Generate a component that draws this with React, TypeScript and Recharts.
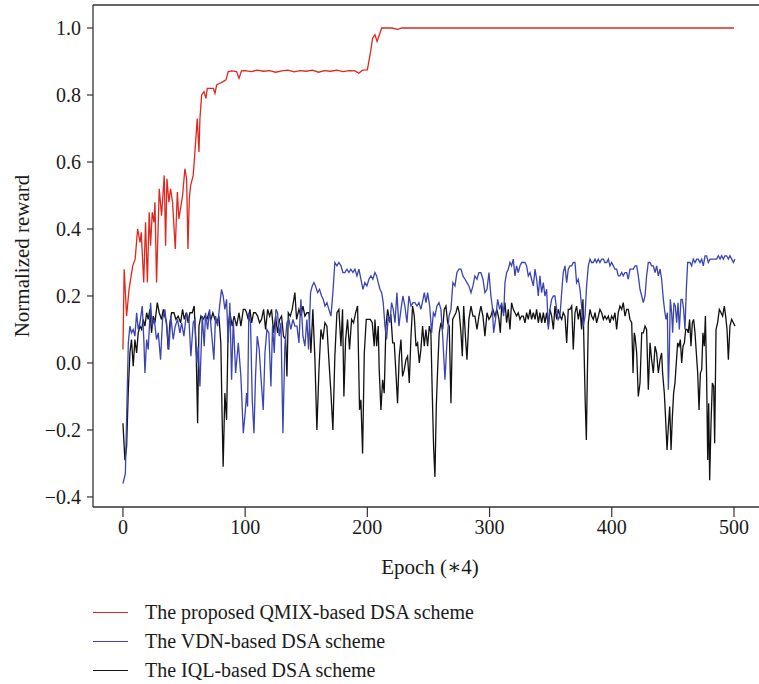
import React from 'react';
import { LineChart, Line, XAxis, YAxis, ReferenceLine, Label } from 'recharts';

const FONT = "'Liberation Serif', 'DejaVu Serif', serif";

const xTicks = [0, 100, 200, 300, 400, 500];
const yTicks = [-0.4, -0.2, 0, 0.2, 0.4, 0.6, 0.8, 1.0];
const X_DOMAIN: [number, number] = [-24.5, 535.2];
const Y_DOMAIN: [number, number] = [-0.43, 1.0687];

const seriesNames = [
  'The proposed QMIX-based DSA scheme',
  'The VDN-based DSA scheme',
  'The IQL-based DSA scheme',
];
const seriesColors = ['#e2261c', '#3a44b2', '#111111'];

// [epoch, normalized reward]
const qmixPoints: [number, number][] = [
  [0,0.04],[1,0.28],[3,0.14],[5,0.22],[8,0.29],[10,0.31],[12,0.40],[14,0.36],[15,0.39],[17,0.24],
  [18.5,0.42],[20,0.24],[21.5,0.45],[22.6,0.35],[24,0.45],[25.4,0.42],[26.2,0.48],[27.5,0.24],[29.7,0.52],[31.6,0.44],
  [33.8,0.56],[34.9,0.35],[36,0.55],[37.6,0.48],[39,0.52],[40.6,0.48],[42.8,0.34],[44.5,0.51],[45.8,0.43],[47.5,0.47],
  [48.8,0.50],[50.7,0.58],[52.1,0.55],[53.2,0.34],[54.3,0.49],[55.4,0.53],[57.5,0.56],[58.9,0.63],[60.8,0.73],[62.2,0.63],
  [63,0.73],[64.4,0.80],[66.3,0.81],[67.9,0.79],[69,0.82],[72,0.82],[74,0.82],[75.3,0.805],[76.7,0.83],[79.4,0.835],
  [82,0.84],[84.3,0.845],[86.2,0.87],[89,0.872],[93,0.870],[95,0.85],[97,0.872],[100,0.873],[105,0.870],[110,0.874],
  [115,0.871],[120,0.873],[125,0.868],[130,0.872],[135,0.874],[140,0.869],[145,0.873],[150,0.871],[155,0.874],[160,0.868],
  [165,0.873],[170,0.871],[175,0.874],[180,0.870],[185,0.873],[190,0.872],[193,0.865],[196,0.874],[200,0.875],[202.7,0.93],
  [204.3,0.97],[206.2,0.98],[208,0.96],[211.7,1.0],[220,1.0],[225,0.996],[228,1.0],[240,1.0],[260,1.0],[300,1.0],
  [350,1.0],[400,1.0],[450,1.0],[500,1.0],
];

const vdnPoints: [number, number][] = [
  [0,-0.36],[2,-0.33],[4.4,0.06],[5.7,0.11],[7,0.09],[8.4,0.10],[9.8,0.08],[11.2,0.15],[12.5,0.10],[13.9,0.12],
  [15.8,0.17],[17.2,0.06],[18,-0.03],[19.4,0.07],[20.7,0.04],[22.6,0.18],[24,0.11],[25.6,0.13],[27.5,0.07],[28.9,0.09],
  [30.8,0.01],[32.4,0.13],[34.3,0.16],[36,0.10],[37.6,0.04],[39.2,0.14],[41.1,0.07],[42.8,0.11],[44.7,0.13],[46.6,0.09],
  [48,0.12],[49.9,0.08],[52,0.15],[54,0.13],[55.6,0.02],[57.5,0.12],[58.9,0.13],[60.5,0.00],[61.6,0.05],[63,-0.07],
  [64.9,0.14],[66.5,0.05],[67.6,0.15],[69.3,0.10],[70.9,0.16],[72.5,0.09],[74.4,0.01],[75.8,0.14],[77.5,0.11],[79.4,0.18],
  [80.7,0.22],[82,0.20],[83.4,0.16],[84.8,0.19],[86.1,0.06],[87.5,0.18],[88.9,-0.05],[90.3,0.13],[92.2,-0.03],[94.4,0.06],
  [96.5,-0.04],[98.5,-0.21],[100,-0.15],[101.2,-0.09],[102,-0.13],[103,0.15],[104.4,0.12],[105.8,-0.11],[107.2,-0.21],[108.5,-0.04],
  [109.9,0.08],[111.5,0.04],[112.9,-0.04],[114.8,-0.14],[116.2,0.03],[117.8,0.10],[119.4,0.09],[121.1,-0.07],[122.4,0.11],[123.8,0.03],
  [125.2,0.16],[126.5,0.15],[127.9,0.08],[129.3,0.12],[130.9,-0.21],[132.5,0.05],[134.2,0.12],[135.8,0.13],[137.4,0.10],[139.1,0.13],
  [140.7,0.11],[142.4,0.11],[144,0.06],[145.6,0.19],[147.3,0.08],[148.9,0.05],[150.5,0.13],[151.9,0.04],[153.5,0.21],[154.9,0.23],
  [156.3,0.24],[157.6,0.23],[159.3,0.21],[160.9,0.22],[162.5,0.20],[163.9,0.19],[165.3,0.17],[166.9,0.18],[168.5,0.16],[170.2,0.14],
  [171.8,0.21],[173.4,0.30],[175.1,0.29],[176.7,0.30],[178.4,0.29],[180,0.27],[181.6,0.27],[183.3,0.28],[184.9,0.27],[186.5,0.28],
  [188.2,0.27],[189.8,0.28],[191.5,0.26],[193.1,0.28],[194.7,0.25],[196.4,0.22],[198,0.24],[199.6,0.23],[201.3,0.25],[202.9,0.26],
  [204.5,0.25],[206.2,0.27],[207.6,0.26],[208.9,0.24],[210.3,0.22],[211.7,0.21],[213,0.18],[214.4,0.11],[215.7,0.07],[217.1,0.14],
  [218.5,0.12],[219.8,0.18],[221.2,0.16],[222.6,0.12],[224.2,0.21],[225.8,0.11],[227.5,0.16],[229.1,0.20],[230.7,0.17],[232.4,0.12],
  [234,0.20],[235.7,0.17],[237.3,0.18],[238.9,0.18],[240.6,0.17],[242.2,0.18],[243.8,0.16],[245.5,0.19],[246.6,0.21],[248,0.18],
  [249.3,0.21],[251,0.17],[252.6,0.09],[254,0.15],[255.3,0.14],[256.9,0.17],[258.6,0.18],[260.2,0.16],[261.8,0.07],[263.5,-0.05],
  [265.1,0.06],[266.8,0.14],[268.4,0.16],[270,0.24],[271.7,0.23],[273.3,0.27],[274.9,0.28],[276.6,0.28],[278.2,0.26],[279.9,0.25],
  [281.5,0.24],[283.1,0.23],[284.8,0.21],[286.4,0.23],[288,0.26],[289.7,0.25],[291.3,0.27],[292.9,0.27],[294.6,0.25],[296.2,0.21],
  [297.9,0.22],[299.5,0.27],[301.1,0.20],[302.2,0.17],[303.3,0.09],[304.9,0.13],[306.6,0.19],[308.2,0.16],[309.9,0.18],[311.5,0.14],
  [312.6,0.24],[314,0.27],[315.3,0.28],[316.7,0.30],[318,0.29],[319.4,0.31],[320.8,0.26],[322.1,0.29],[323.5,0.27],[324.9,0.29],
  [326.2,0.30],[327.6,0.30],[329,0.30],[330.3,0.29],[331.7,0.26],[333.1,0.27],[334.4,0.25],[335.8,0.23],[337.2,0.28],[338.5,0.25],
  [339.9,0.20],[341.2,0.26],[342.6,0.21],[344,0.24],[345.3,0.20],[346.7,0.22],[348.1,0.10],[349.4,0.16],[350.8,0.19],[352.2,0.20],
  [353.5,0.20],[354.9,0.16],[356.2,0.13],[357.6,0.14],[359,0.21],[360.3,0.27],[361.7,0.29],[363.1,0.24],[364.4,0.28],[365.8,0.29],
  [367.2,0.29],[368.5,0.30],[369.9,0.30],[371.2,0.24],[372.6,0.25],[374,0.22],[375.3,0.17],[376.7,0.11],[378.1,0.14],[379.4,0.23],
  [380.8,0.29],[382.2,0.31],[383.5,0.30],[384.9,0.30],[386.3,0.31],[387.6,0.30],[389,0.31],[390.3,0.30],[391.7,0.31],[393.1,0.31],
  [394.4,0.30],[395.8,0.30],[397.2,0.31],[398.5,0.29],[399.9,0.30],[401.3,0.29],[402.6,0.28],[404,0.28],[405.3,0.26],[406.7,0.26],
  [408.1,0.27],[409.4,0.26],[410.8,0.27],[412.2,0.27],[413.5,0.25],[414.9,0.28],[416.3,0.28],[417.6,0.28],[419,0.29],[420.4,0.29],
  [421.7,0.26],[423.1,0.22],[424.5,0.20],[425.8,0.18],[427.2,0.20],[428.5,0.26],[429.9,0.30],[431.3,0.30],[432.6,0.29],[434,0.29],
  [435.4,0.27],[436.7,0.29],[438.1,0.26],[439.5,0.28],[440.8,0.25],[442.2,0.19],[443.5,0.15],[444.4,0.13],[445.5,0.15],[446.3,-0.08],
  [447.1,0.03],[447.9,0.19],[449,0.15],[449.8,0.09],[450.9,0.18],[452,0.17],[453.1,0.12],[454.2,0.18],[455.3,0.10],[456.6,0.19],
  [457.7,0.19],[458.8,0.16],[459.9,0.10],[461,0.22],[462.1,0.30],[464,0.30],[465.4,0.29],[466.7,0.31],[468.1,0.30],[469.5,0.31],
  [470.8,0.31],[472.2,0.30],[473.6,0.31],[474.9,0.29],[476.3,0.32],[477.6,0.32],[479,0.30],[480.4,0.31],[481.7,0.31],[483.1,0.31],
  [484.5,0.31],[485.8,0.31],[487.2,0.32],[488.6,0.31],[489.9,0.32],[491.3,0.31],[492.6,0.32],[494,0.32],[495.4,0.31],[496.7,0.32],
  [498.1,0.31],[499.5,0.30],[500.8,0.31],
];

const iqlPoints: [number, number][] = [
  [0,-0.18],[1.6,-0.29],[3,-0.25],[4.4,-0.08],[5.7,0.03],[7,0.07],[8.4,-0.01],[9.8,0.07],[11.2,0.03],[12.5,0.09],
  [13.9,0.11],[15.3,0.10],[16.6,0.13],[18,0.11],[19.4,0.15],[20.7,0.13],[22,0.16],[23.4,0.09],[24.8,0.14],[26.2,0.12],
  [28.1,0.18],[29.7,0.15],[31.6,0.13],[33,0.16],[34.3,0.14],[35.7,0.12],[37,0.04],[38.4,0.12],[39.8,0.15],[41.7,0.15],
  [43.4,0.13],[45.2,0.14],[47.2,0.12],[48.8,0.16],[50.2,0.13],[51.8,0.15],[53.4,0.12],[54.8,0.15],[56.7,0.15],[58.3,0.17],
  [60,0.02],[61.1,-0.18],[62.2,0.11],[63.8,0.14],[65.5,0.13],[67.1,0.14],[68.7,0.13],[70.4,0.15],[72,0.13],[73.6,0.15],
  [75.3,0.13],[76.9,0.12],[78.5,0.14],[80.1,0.06],[81.2,-0.17],[82,-0.31],[83.4,-0.09],[84.8,-0.17],[86.1,0.11],[87.5,0.15],
  [89.4,0.11],[91,0.14],[93,0.11],[95,0.15],[96.5,0.11],[98.5,0.16],[100,0.16],[101.2,0.15],[102.5,0.13],[103.9,0.16],
  [105.3,0.12],[106.9,0.15],[108.5,0.15],[110.2,0.14],[111.8,0.12],[113.4,0.13],[115.1,0.16],[116.7,0.10],[118.4,0.16],[120,0.14],
  [121.6,0.16],[123.3,0.09],[124.9,0.14],[126.5,0.09],[128.2,0.13],[129.8,0.14],[131.4,0.08],[133.1,0.07],[134.2,-0.04],[135.3,0.15],
  [136.9,0.14],[138.5,0.16],[140.7,0.21],[142.1,0.13],[144,0.16],[145.6,0.14],[147.3,0.17],[148.9,0.14],[150.5,0.15],[152.2,0.15],
  [153.8,0.03],[155.4,0.16],[157.1,0.01],[158.7,-0.20],[160.4,-0.02],[162,0.10],[163.6,0.07],[165.3,0.12],[166.9,0.11],[168.5,0.01],
  [170.2,-0.09],[171.8,-0.20],[173.4,0.02],[175.1,0.15],[176.7,0.16],[178.4,0.05],[179.7,0.16],[180.8,-0.10],[182.2,0.07],[183.8,0.13],
  [185.4,0.04],[187.1,0.13],[188.7,0.12],[190.4,0.15],[192,0.17],[193.6,-0.14],[194.7,-0.11],[196.1,-0.27],[197.5,0.03],[199.1,0.13],
  [200.8,0.13],[202.4,0.13],[204,0.12],[205.6,0.05],[206.2,0.13],[207.6,0.05],[208.9,0.11],[209.7,-0.02],[211.1,-0.14],[212.5,-0.05],
  [213.8,-0.09],[215.2,0.11],[216.6,0.16],[217.9,0.13],[219.3,0.14],[220.7,0.06],[222,0.06],[223.4,-0.03],[224.7,-0.12],[226.1,0.02],
  [227.5,0.07],[228.8,-0.04],[230.2,-0.02],[231.6,0.01],[232.9,0.02],[234.3,-0.06],[235.7,0.08],[237,0.17],[238.4,0.14],[239.8,0.05],
  [241.1,0.06],[242.5,0.00],[243.8,0.04],[245.2,0.11],[246.6,0.05],[247.9,0.10],[249.3,0.05],[250.7,0.11],[252,0.09],[253.1,-0.09],
  [254.2,-0.25],[255.3,-0.34],[256.4,-0.13],[257.5,-0.02],[258.8,0.09],[260.2,0.12],[261.6,0.10],[262.9,0.16],[264.3,0.17],[265.7,0.12],
  [267,0.11],[268.4,-0.12],[269.8,0.13],[271.1,0.14],[272.5,0.15],[273.9,0.17],[275.2,0.15],[276.6,0.09],[277.7,0.02],[278.8,0.17],
  [280.4,0.07],[281.5,0.01],[283.1,0.13],[284.8,0.17],[286.4,0.14],[288,0.14],[289.7,0.10],[291.3,0.14],[292.9,0.17],[294.6,0.14],
  [296.2,0.08],[297.9,0.15],[299.5,0.13],[301.1,0.14],[302.7,0.16],[304.4,0.14],[306,0.16],[307.7,0.13],[308.8,0.09],[309.9,0.17],
  [311.5,0.15],[312.6,0.18],[314,0.12],[315.3,0.16],[316.7,0.10],[318,0.18],[319.4,0.16],[320.8,0.15],[322.1,0.14],[323.5,0.15],
  [324.9,0.13],[326.2,0.14],[327.6,0.14],[329,0.12],[330.3,0.15],[331.7,0.13],[333.1,0.16],[334.4,0.13],[335.8,0.15],[337.2,0.13],
  [338.5,0.16],[339.9,0.12],[341.2,0.15],[342.6,0.12],[344,0.15],[345.3,0.12],[346.7,0.15],[348.1,0.11],[349.4,0.16],[350.8,0.14],
  [352.2,0.10],[353.5,0.17],[354.9,0.13],[356.2,0.16],[357.6,0.14],[359,0.13],[360.3,0.15],[361.7,0.14],[363.1,0.06],[364.4,0.16],
  [365.8,0.16],[367.2,0.17],[368.5,0.04],[369.9,0.15],[371.2,0.17],[372.6,0.13],[374,0.16],[375.3,0.10],[376.4,0.19],[377.5,0.01],
  [378.3,-0.12],[379.2,-0.23],[380,-0.04],[380.8,0.12],[382.2,0.16],[383.5,0.14],[384.9,0.13],[386.3,0.15],[387.6,0.12],[389,0.14],
  [390.3,0.16],[391.7,0.15],[393.1,0.13],[394.4,0.14],[395.8,0.13],[397.2,0.14],[398.5,0.12],[399.9,0.14],[401.3,0.13],[402.6,0.15],
  [404,0.10],[405.3,0.15],[406.7,0.17],[408.1,0.16],[409.4,0.18],[410.8,0.14],[412.2,0.16],[413.5,0.16],[414.9,0.13],[416.3,0.12],
  [417.4,-0.03],[418.4,0.09],[419,0.08],[420.4,0.03],[421.7,-0.10],[423.1,-0.06],[424.5,0.09],[425.8,0.09],[427.2,0.11],[428.5,0.10],
  [429.9,-0.08],[431.3,0.06],[432.6,0.01],[434,-0.03],[435.4,0.05],[436.7,0.03],[438.1,-0.03],[439.5,0.01],[440.8,0.03],[441.6,-0.03],
  [443,-0.09],[444.1,-0.17],[445.2,-0.26],[446.3,-0.19],[447.4,-0.13],[448.5,-0.26],[449.6,-0.16],[450.6,-0.09],[451.7,-0.06],[452.8,0.00],
  [453.9,0.06],[455,0.05],[456.1,0.07],[457.2,0.00],[458.3,0.05],[459.4,0.06],[460.5,0.10],[461.6,0.10],[462.6,0.09],[463.7,0.13],
  [464.8,0.05],[465.9,0.12],[467,0.13],[468.1,0.09],[469.2,0.03],[470.3,-0.03],[471.4,-0.14],[472.5,-0.03],[473.6,-0.02],[474.6,0.09],
  [475.7,0.05],[476.6,0.14],[477.6,-0.04],[478.5,-0.29],[479.3,-0.12],[480.1,-0.35],[481.2,-0.18],[482.3,-0.06],[483.4,-0.07],[484.2,-0.24],
  [485.3,0.10],[486.6,0.12],[488,0.16],[489.4,0.15],[490.7,0.14],[492.1,0.17],[493.2,0.14],[494.3,0.10],[495.4,0.01],[496.7,0.11],
  [498.1,0.13],[499.5,0.12],[500.8,0.11],
];

const toRows = (pts: [number, number][]) => pts.map(([epoch, value]) => ({ epoch, value }));
const seriesData = [toRows(qmixPoints), toRows(vdnPoints), toRows(iqlPoints)];

const fmtY = (v: number) => (v < 0 ? '\u2212' + Math.abs(v).toFixed(1) : v.toFixed(1));

const axisColor = '#333333';

export default function App() {
  return (
    <div style={{ position: 'absolute', left: 0, top: 0, width: 759, height: 684, overflow: 'hidden', background: '#fff', fontFamily: FONT }}>
      <LineChart width={790} height={600} margin={{ top: 5, right: 13, left: 0, bottom: 0 }}>
        <XAxis
          dataKey="epoch"
          type="number"
          domain={X_DOMAIN}
          ticks={xTicks}
          allowDataOverflow
          height={93}
          tickSize={10}
          tickMargin={3}
          axisLine={{ stroke: axisColor, strokeWidth: 1.3 }}
          tickLine={{ stroke: axisColor, strokeWidth: 1.2 }}
          tick={{ fill: '#1a1a1a', fontSize: 20, fontFamily: FONT }}
        >
          <Label value={'Epoch (\u22174)'} position="insideBottom" offset={26} dx={-5} style={{ fill: '#1a1a1a', fontSize: 21, fontFamily: FONT }} />
        </XAxis>
        <YAxis
          type="number"
          domain={Y_DOMAIN}
          ticks={yTicks}
          allowDataOverflow
          width={93}
          tickSize={6}
          tickMargin={6}
          tickFormatter={fmtY}
          axisLine={{ stroke: axisColor, strokeWidth: 1.3 }}
          tickLine={{ stroke: axisColor, strokeWidth: 1.2 }}
          tick={{ fill: '#1a1a1a', fontSize: 20, fontFamily: FONT }}
        >
          <Label value="Normalized reward" angle={-90} position="insideLeft" offset={22} style={{ textAnchor: 'middle', fill: '#1a1a1a', fontSize: 21, fontFamily: FONT }} />
        </YAxis>
        <ReferenceLine y={Y_DOMAIN[1]} stroke={axisColor} strokeWidth={1.3} />
        {seriesData.map((d, i) => (
          <Line
            key={seriesNames[i]}
            data={d}
            dataKey="value"
            name={seriesNames[i]}
            type="linear"
            stroke={seriesColors[i]}
            strokeWidth={1.3}
            dot={false}
            activeDot={false}
            isAnimationActive={false}
          />
        )).reverse()}
      </LineChart>
      <div style={{ position: 'absolute', left: 93, top: 598 }}>
        {seriesNames.map((n, i) => (
          <div key={n} style={{ display: 'flex', alignItems: 'center', height: 29 }}>
            <div style={{ width: 35, height: 0, borderTop: `1.5px solid ${seriesColors[i]}`, marginRight: 17 }} />
            <span style={{ fontSize: 20, color: '#1a1a1a', fontFamily: FONT, lineHeight: '29px' }}>{n}</span>
          </div>
        ))}
      </div>
    </div>
  );
}
